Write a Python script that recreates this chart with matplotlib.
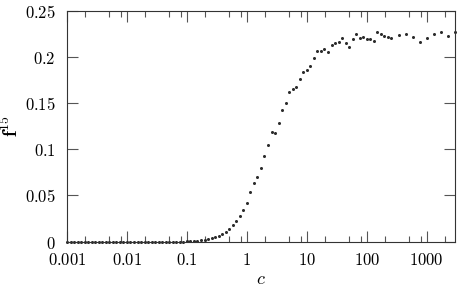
import matplotlib
matplotlib.use("Agg")
import matplotlib.pyplot as plt
from matplotlib.ticker import FixedLocator, NullFormatter

plt.rcParams['mathtext.fontset'] = 'cm'

# c values (log spaced)
c = [0.001, 0.001145, 0.001311, 0.001501, 0.001719, 0.001968, 0.002254, 0.002581, 0.002955,
     0.003384, 0.003875, 0.004437, 0.00508, 0.005817, 0.006661, 0.007627, 0.008734,
     0.01, 0.01145, 0.01311, 0.01501, 0.01719, 0.01968, 0.02254, 0.02581, 0.02955,
     0.03384, 0.03875, 0.04437, 0.0508, 0.05817, 0.06661, 0.07627, 0.08734,
     0.1, 0.1145, 0.1311, 0.1501, 0.1719, 0.1968, 0.2254, 0.2581, 0.2955,
     0.3384, 0.3875, 0.4437, 0.508, 0.5817, 0.6661, 0.7627, 0.8734,
     1.0, 1.145, 1.311, 1.501, 1.719, 1.968, 2.254, 2.581, 2.955,
     3.384, 3.875, 4.437, 5.08, 5.817, 6.661, 7.627, 8.734,
     10.0, 11.45, 13.11, 15.01, 17.19, 19.68, 22.54, 25.81, 29.55,
     33.84, 38.75, 44.37, 50.8, 58.17, 66.61, 76.27, 87.34,
     100.0, 114.5, 131.1, 150.1, 171.9, 196.8, 225.4, 258.1,
     338.4, 443.7, 581.7, 762.7, 1000.0, 1311.0, 1719.0, 2254.0, 2955.0]

# f^15 values
f15 = [0.0] * 34 + [
    0.0003, 0.0006, 0.0007, 0.0010, 0.0013, 0.0018, 0.0025, 0.0035, 0.0047,
    0.0063, 0.0082, 0.0106, 0.0136, 0.0178, 0.0223, 0.0276,
    0.0346, 0.0423, 0.0541, 0.0631, 0.0702, 0.0794, 0.0922, 0.1043, 0.1183,
    0.1172, 0.1282, 0.1423, 0.1504, 0.1615, 0.1655, 0.1674,
    0.1764, 0.1836, 0.1861, 0.1905, 0.1984, 0.2067, 0.2067, 0.2085, 0.2053,
    0.2129, 0.2146, 0.2161, 0.2205, 0.2148, 0.2107, 0.2197,
    0.2248, 0.2208, 0.2215, 0.2197, 0.2193, 0.2175, 0.2265, 0.2248,
    0.2229, 0.2219, 0.2208,
    0.2238, 0.2248, 0.2219, 0.2165, 0.2205, 0.2248, 0.2265, 0.2229, 0.2265]

xticks = [0.001, 0.01, 0.1, 1, 10, 100, 1000]
xticklabels = ['0.001', '0.01', '0.1', '1', '10', '100', '1000']
yticks = [0, 0.05, 0.1, 0.15, 0.2, 0.25]
yticklabels = ['0', '0.05', '0.1', '0.15', '0.2', '0.25']

fig = plt.figure(figsize=(4.71, 2.88), dpi=100)
ax = fig.add_axes([0.1423, 0.1608, 0.8244, 0.8021])

ax.plot(c, f15, linestyle='none', marker='o', markersize=2.2,
        markeredgewidth=0, color='#2b2b2b', clip_on=False)

ax.set_xscale('log')
ax.set_xlim(0.001, 3000)
ax.set_ylim(0, 0.25)

ax.xaxis.set_major_locator(FixedLocator(xticks))
ax.set_xticklabels(['$' + t + '$' for t in xticklabels])
minor = [m * d for d in [0.001, 0.01, 0.1, 1, 10, 100, 1000] for m in (2, 5, 8)]
ax.xaxis.set_minor_locator(FixedLocator([v for v in minor if v < 3000]))
ax.xaxis.set_minor_formatter(NullFormatter())
ax.set_yticks(yticks)
ax.set_yticklabels(['$' + t + '$' for t in yticklabels])

for s in ax.spines.values():
    s.set_color('#333333')
    s.set_linewidth(0.8)

ax.tick_params(which='both', direction='in', top=True, right=True,
               color='#555555', width=0.8, labelsize=12)
ax.tick_params(axis='x', which='major', length=8, pad=6.5)
ax.tick_params(axis='x', which='minor', length=4)
ax.tick_params(axis='y', which='major', length=8, pad=8)

ax.set_xlabel('$c$', fontsize=13, labelpad=1)
ax.set_ylabel(r'$\mathbf{f}^{15}$', fontsize=14)
ax.yaxis.set_label_coords(-0.115, 0.5)

plt.savefig('out.png', dpi=100)
plt.close()
